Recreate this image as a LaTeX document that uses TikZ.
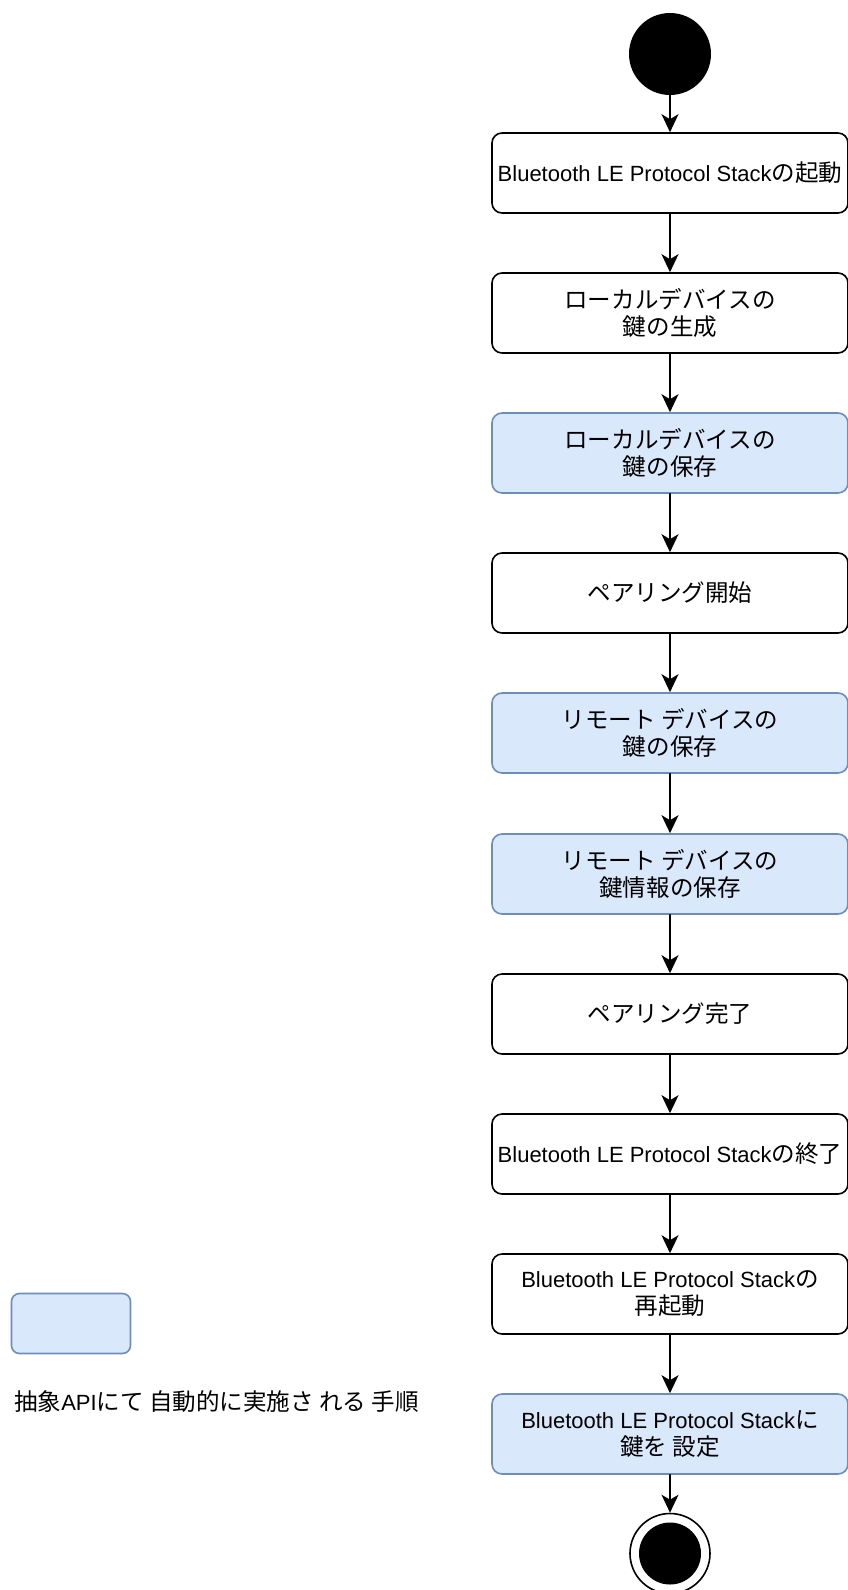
\documentclass[tikz,border=0pt]{standalone}
\usepackage{fontspec}
\setmainfont{Liberation Sans}
\newfontfamily\jp[Scale=1.07]{Noto Sans CJK JP}
\usetikzlibrary{arrows.meta}
\definecolor{autofill}{HTML}{DAE8FC}
\definecolor{autoline}{HTML}{6C8EBF}
\tikzset{
  action/.style={draw, rounded corners=10pt, line width=1.6pt, minimum width=356pt,
    minimum height=80pt, inner sep=0pt, align=center, font=\fontsize{22}{27}\selectfont},
  autostep/.style={action, fill=autofill, draw=autoline},
  jptext/.style={font=\jp\fontsize{22}{27}\selectfont},
  flow/.style={-{Stealth[length=18pt,width=17pt,inset=5pt]}, line width=1.6pt},
}
\begin{document}
\begin{tikzpicture}[x=1pt,y=-1pt,line cap=round,line join=round]
  \useasboundingbox (0,0) rectangle (848,1590);
  \node[circle, fill=black, minimum size=82pt, inner sep=0pt] (start) at (670,54) {};
  \node[action] (boot) at (670,173) {Bluetooth LE Protocol Stack{\jp の起動}};
  \node[action, jptext] (localgen) at (670,313) {ローカルデバイスの\\ 鍵の生成};
  \node[autostep, jptext] (localsave) at (670,453) {ローカルデバイスの\\ 鍵の保存};
  \node[action, jptext] (pairstart) at (670,593) {ペアリング開始};
  \node[autostep, jptext] (remotekey) at (670,733) {リモート デバイスの\\ 鍵の保存};
  \node[autostep, jptext] (remoteinfo) at (670,874) {リモート デバイスの\\ 鍵情報の保存};
  \node[action, jptext] (pairdone) at (670,1014) {ペアリング完了};
  \node[action] (shutdown) at (670,1154) {Bluetooth LE Protocol Stack{\jp の終了}};
  \node[action] (reboot) at (670,1294) {Bluetooth LE Protocol Stack{\jp の}\\ {\jp 再起動}};
  \node[autostep] (setkey) at (670,1434) {Bluetooth LE Protocol Stack{\jp に}\\ {\jp 鍵を 設定}};
  \node[circle, draw, line width=1.6pt, minimum size=80pt, inner sep=0pt] (stop) at (670,1553.5) {};
  \node[circle, fill=black, minimum size=62pt, inner sep=0pt] (stopdot) at (stop) {};
  % legend
  \node[autostep, rounded corners=8pt, minimum width=119pt, minimum height=60pt] (legendbox) at (71,1323.5) {};
  \node[anchor=west, inner sep=0pt, font=\fontsize{22}{27}\selectfont] (legendtext) at (14,1402)
    {{\jp 抽象}API{\jp にて 自動的に実施さ れる 手順}};
  \foreach \a/\b in {start/boot, boot/localgen, localgen/localsave, localsave/pairstart,
    pairstart/remotekey, remotekey/remoteinfo, remoteinfo/pairdone, pairdone/shutdown,
    shutdown/reboot, reboot/setkey, setkey/stop}
    \draw[flow] (\a) -- (\b);
\end{tikzpicture}
\end{document}
